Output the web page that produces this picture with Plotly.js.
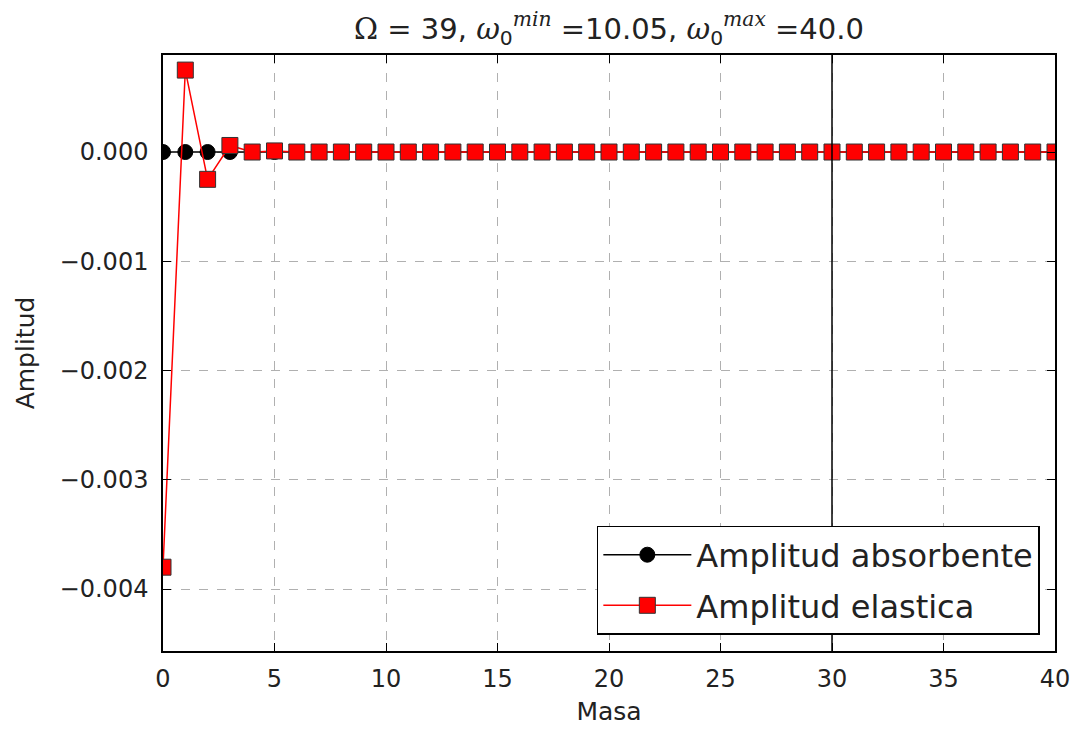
<!DOCTYPE html>
<html><head><meta charset="utf-8">
<script src="https://cdn.plot.ly/plotly-3.0.1.min.js"></script>
<style>html,body{margin:0;padding:0;background:#fff}#chart{width:1077px;height:731px}</style>
</head><body><div id="chart"></div>
<script>
const masa = Array.from({length: 41}, (_, i) => i);
const absorbente = [0,0,0,0,0,0,0,0,0,0,0,0,0,0,0,0,0,0,0,0,0,0,0,0,0,0,0,0,0,0,0,0,0,0,0,0,0,0,0,0,0];
const elastica = [-0.0038,0.00075,-0.00025,0.00006,0,0.00001,0,0,0,0,0,0,0,0,0,0,0,0,0,0,0,0,0,0,0,0,0,0,0,0,0,0,0,0,0,0,0,0,0,0,0];
const vlineX = 30;

const font = "DejaVu Sans, sans-serif";
const serif = "DejaVu Serif, serif";
const traces = [
  {x: masa, y: absorbente, name: 'Amplitud absorbente', mode: 'lines+markers', legendgroup: 'a',
   line: {color: 'black', width: 1.5},
   marker: {symbol: 'circle', size: 15, color: 'black', line: {color: 'black', width: 1}}, cliponaxis: true},
  {x: masa, y: elastica, name: 'Amplitud elastica', mode: 'lines+markers', legendgroup: 'b',
   line: {color: 'red', width: 1.5},
   marker: {symbol: 'square', size: 16, color: 'red', line: {color: '#333', width: 1}}, cliponaxis: true}
];
const w = (s) => '<span style="font-family:' + serif + '"><i>' + s + '</i></span>';
const layout = {
  width: 1077, height: 731,
  margin: {l: 163, r: 22, t: 55, b: 80},
  paper_bgcolor: 'white', plot_bgcolor: 'white',
  font: {family: font, color: '#222', size: 25},
  title: {text: '<span style="font-family:' + serif + '">Ω</span> = 39, ' + w('ω') + '<sub>0</sub><sup>' + w('min') + '</sup> =10.05, ' + w('ω') + '<sub>0</sub><sup>' + w('max') + '</sup> =40.0',
          xref: 'paper', x: 0.5, xanchor: 'center', y: 0.975, yanchor: 'top', font: {family: font, size: 29, color: '#222'}},
  xaxis: {range: [0, 40], dtick: 5, tick0: 0, showgrid: true, gridcolor: '#b0b0b0', griddash: 'dash', gridwidth: 1,
          zeroline: false, showline: true, linecolor: 'black', linewidth: 1.5, mirror: 'allticks',
          ticks: 'inside', ticklen: 8, tickcolor: 'black', tickfont: {size: 24}, ticklabelstandoff: 5,
          title: {text: 'Masa', font: {size: 25}, standoff: 11}},
  yaxis: {range: [-0.004567, 0.000888], dtick: 0.001, tick0: 0, tickformat: '.3f', showgrid: true, gridcolor: '#b0b0b0', griddash: 'dash', gridwidth: 1,
          zeroline: false, showline: true, linecolor: 'black', linewidth: 1.5, mirror: 'allticks',
          ticks: 'inside', ticklen: 8, tickcolor: 'black', tickfont: {size: 24}, ticklabelstandoff: 8,
          title: {text: 'Amplitud', font: {size: 25}, standoff: 18}},
  legend: {x: 0.983, xanchor: 'right', y: 0.027, yanchor: 'bottom', bgcolor: 'white', bordercolor: 'black', borderwidth: 1.5,
           font: {size: 32, family: font}, itemwidth: 88, tracegroupgap: 6, traceorder: 'grouped'},
  shapes: [{type: 'line', xref: 'x', yref: 'paper', x0: vlineX, x1: vlineX, y0: 0, y1: 1, line: {color: 'black', width: 1.5}, layer: 'above'}],
  showlegend: true
};
Plotly.newPlot('chart', traces, layout, {displayModeBar: false});
</script></body></html>
